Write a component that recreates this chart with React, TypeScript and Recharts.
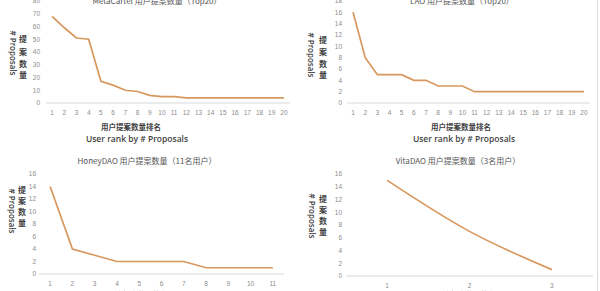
import { LineChart, Line, XAxis, YAxis } from "recharts"

const metaRanks = [1, 2, 3, 4, 5, 6, 7, 8, 9, 10, 11, 12, 13, 14, 15, 16, 17, 18, 19, 20]
const metaProposals = [68, 59, 51, 50, 17, 14, 10, 9, 6, 5, 5, 4, 4, 4, 4, 4, 4, 4, 4, 4]
const metaTicks = [0, 10, 20, 30, 40, 50, 60, 70, 80]

const laoRanks = [1, 2, 3, 4, 5, 6, 7, 8, 9, 10, 11, 12, 13, 14, 15, 16, 17, 18, 19, 20]
const laoProposals = [16, 8, 5, 5, 5, 4, 4, 3, 3, 3, 2, 2, 2, 2, 2, 2, 2, 2, 2, 2]
const laoTicks = [0, 2, 4, 6, 8, 10, 12, 14, 16, 18]

const honeyRanks = [1, 2, 3, 4, 5, 6, 7, 8, 9, 10, 11]
const honeyProposals = [14, 4, 3, 2, 2, 2, 2, 1, 1, 1, 1]
const honeyTicks = [0, 2, 4, 6, 8, 10, 12, 14, 16]

const vitaRanks = [1, 2, 3]
const vitaProposals = [15, 7, 1]
const vitaTicks = [0, 2, 4, 6, 8, 10, 12, 14, 16]

const titles = [
  "MetaCartel 用户提案数量（Top20）",
  "LAO 用户提案数量（Top20）",
  "HoneyDAO 用户提案数量（11名用户）",
  "VitaDAO 用户提案数量（3名用户）",
]
const xTitleZh = "用户提案数量排名"
const xTitleEn = "User rank by # Proposals"
const yTitleEn = "# Proposals"
const yTitleZh = ["提", "案", "数", "量"]

const LINE = "#d8975c"
const TICK = "#8c8c8c"
const LABEL = "#3f3f3f"
const CJK = "'Noto Sans CJK SC', 'Open Sans', sans-serif"

interface RankChartProps {
  ranks: number[]
  values: number[]
  ticks: number[]
  x: number
  y: number
  height: number
  plotLeft: number
  plotRight: number
  plotTop: number
  plotBottom: number
  yGap: number
  curve?: "linear" | "monotone"
}

function RankChart(p: RankChartProps) {
  const data = p.ranks.map((rank, i) => ({ rank, proposals: p.values[i] }))
  return (
    <div style={{ position: "absolute", left: p.x, top: p.y }}>
      <LineChart
        width={300}
        height={p.height}
        data={data}
        margin={{ top: p.plotTop, right: 300 - p.plotRight, bottom: 0, left: 0 }}
      >
        <XAxis
          type="number"
          dataKey="rank"
          domain={[0.5, p.ranks.length + 0.5]}
          ticks={p.ranks}
          interval={0}
          height={p.height - p.plotBottom}
          axisLine={{ stroke: "#d9d9d9" }}
          tickLine={false}
          tickSize={5}
          tickMargin={2}
          tick={{ fontSize: 6.5, fill: TICK, fontFamily: "Liberation Sans" }}
        />
        <YAxis
          type="number"
          domain={[p.ticks[0], p.ticks[p.ticks.length - 1]]}
          ticks={p.ticks}
          interval={0}
          width={p.plotLeft}
          axisLine={false}
          tickLine={false}
          tickSize={p.yGap - 2}
          tickMargin={2}
          tick={{ fontSize: 6.5, fill: TICK, fontFamily: "Liberation Sans" }}
        />
        <Line
          type={p.curve ?? "linear"}
          dataKey="proposals"
          stroke={LINE}
          strokeWidth={1.7}
          dot={false}
          isAnimationActive={false}
        />
      </LineChart>
    </div>
  )
}

function YTitle({ cx, cy, zhX, zhY }: { cx: number; cy: number; zhX: number; zhY: number[] }) {
  return (
    <g>
      <text
        x={cx}
        y={cy}
        transform={`rotate(90 ${cx} ${cy})`}
        textAnchor="middle"
        dominantBaseline="central"
        fontSize={8}
        fontWeight={600}
        fontFamily="'Open Sans', sans-serif"
        fill={LABEL}
      >
        {yTitleEn}
      </text>
      {yTitleZh.map((ch, i) => (
        <text
          key={ch}
          x={zhX}
          y={zhY[i]}
          textAnchor="middle"
          dominantBaseline="central"
          fontSize={8}
          fontWeight={700}
          fontFamily={CJK}
          fill={LABEL}
        >
          {ch}
        </text>
      ))}
    </g>
  )
}

function Title({ cx, cy, text }: { cx: number; cy: number; text: string }) {
  return (
    <text x={cx} y={cy} textAnchor="middle" dominantBaseline="central" fontSize={8} fontFamily={CJK} fill="#555">
      {text}
    </text>
  )
}

function XTitle({ zx, zy, ex, ey }: { zx: number; zy: number; ex: number; ey: number }) {
  return (
    <g fill={LABEL}>
      <text x={zx} y={zy} textAnchor="middle" dominantBaseline="central" fontSize={7.5} fontWeight={700} fontFamily={CJK}>
        {xTitleZh}
      </text>
      <text x={ex} y={ey} textAnchor="middle" dominantBaseline="central" fontSize={8.5} fontWeight={600} fontFamily="'Open Sans', sans-serif">
        {xTitleEn}
      </text>
    </g>
  )
}

export default function App() {
  return (
    <div style={{ position: "relative", width: 600, height: 291, overflow: "hidden", background: "#fff" }}>
      <style>{"body{margin:0}"}</style>
      <RankChart ranks={metaRanks} values={metaProposals} ticks={metaTicks} x={0} y={0} height={145}
        plotLeft={46} plotRight={290} plotTop={1} plotBottom={103} yGap={6} />
      <RankChart ranks={laoRanks} values={laoProposals} ticks={laoTicks} x={300} y={0} height={145}
        plotLeft={47} plotRight={290} plotTop={1} plotBottom={103} yGap={5} />
      <RankChart ranks={honeyRanks} values={honeyProposals} ticks={honeyTicks} x={0} y={145} height={146}
        plotLeft={39} plotRight={284} plotTop={29} plotBottom={129} yGap={3} />
      <RankChart ranks={vitaRanks} values={vitaProposals} ticks={vitaTicks} x={300} y={145} height={146}
        plotLeft={46} plotRight={293} plotTop={29} plotBottom={131} yGap={4} curve="monotone" />
      <svg width={600} height={291} style={{ position: "absolute", left: 0, top: 0, pointerEvents: "none" }}>
        <Title cx={157} cy={0} text={titles[0]} />
        <Title cx={462} cy={0} text={titles[1]} />
        <Title cx={147} cy={160.5} text={titles[2]} />
        <Title cx={458} cy={160} text={titles[3]} />
        <YTitle cx={13} cy={53} zhX={23} zhY={[38, 51, 63, 74]} />
        <YTitle cx={311} cy={55} zhX={323} zhY={[39, 51, 63, 74]} />
        <YTitle cx={12} cy={211} zhX={22} zhY={[189, 200, 211, 222]} />
        <YTitle cx={312} cy={216} zhX={323} zhY={[198, 209, 220, 231]} />
        <XTitle zx={131} zy={126} ex={137} ey={138} />
        <XTitle zx={461} zy={126} ex={464} ey={138} />
        <XTitle zx={138} zy={294} ex={140} ey={306} />
        <XTitle zx={466} zy={294} ex={466} ey={306} />
        <line x1={597.5} y1={0} x2={597.5} y2={291} stroke="#dcdcdc" strokeWidth={1} />
      </svg>
    </div>
  )
}
